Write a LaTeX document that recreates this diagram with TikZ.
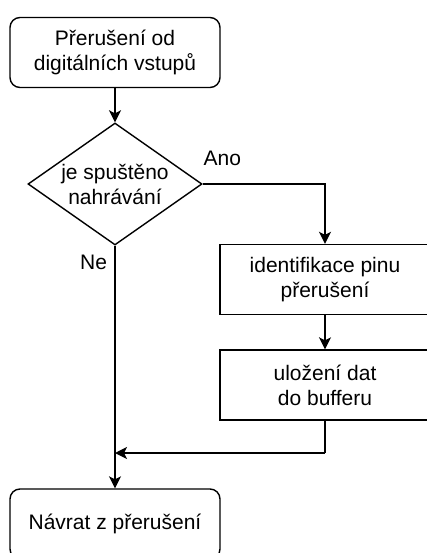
\documentclass[tikz,border=0pt]{standalone}
\usepackage{fontspec}
\setmainfont{Liberation Sans}
\usetikzlibrary{shapes.geometric,arrows.meta}
\tikzset{
  krok/.style={draw,line width=1.4pt,minimum width=210pt,minimum height=70pt,align=center,inner sep=0pt},
  okraj/.style={krok,rounded corners=10pt},
  rozhod/.style={draw,line width=1.4pt,diamond,aspect=1.43,minimum width=174pt,minimum height=122pt,inner sep=0pt,align=center},
  sipka/.style={line width=1.4pt,-{Stealth[length=12pt,width=12pt,inset=3pt]}},
  cara/.style={line width=1.4pt}
}
\begin{document}
\begin{tikzpicture}[x=1pt,y=-1pt,font=\fontsize{21}{25}\selectfont]
	\useasboundingbox (0,0) rectangle (427,553);
	\clip (0,0) rectangle (427,553);
	% uzly
	\node[okraj] (start) at (115,52.5) {Přerušení od\\digitálních vstupů};
	\node[rozhod] (dotaz) at (115,184) {je spuštěno\\nahrávání};
	\node[krok] (pin) at (325,279.5) {identifikace pinu\\přerušení};
	\node[krok] (buf) at (325,385) {uložení dat\\do bufferu};
	\node[okraj] (konec) at (115,524) {Návrat z přerušení};
	\coordinate (spoj) at (115,453);
	\coordinate (ohyb) at (325,453);
	% spojnice
	\draw[sipka] (start) -- (dotaz);
	\draw[sipka] (dotaz.east) -| (pin.north) node[pos=0.08,above=14pt]{Ano};
	\draw[sipka] (pin) -- (buf);
	\draw[sipka] (dotaz.south) -- (konec.north) node[pos=0.07,left=4pt]{Ne};
	\draw[cara] (buf.south) -- (ohyb);
	\draw[sipka] (ohyb) -- (spoj);
\end{tikzpicture}
\end{document}
